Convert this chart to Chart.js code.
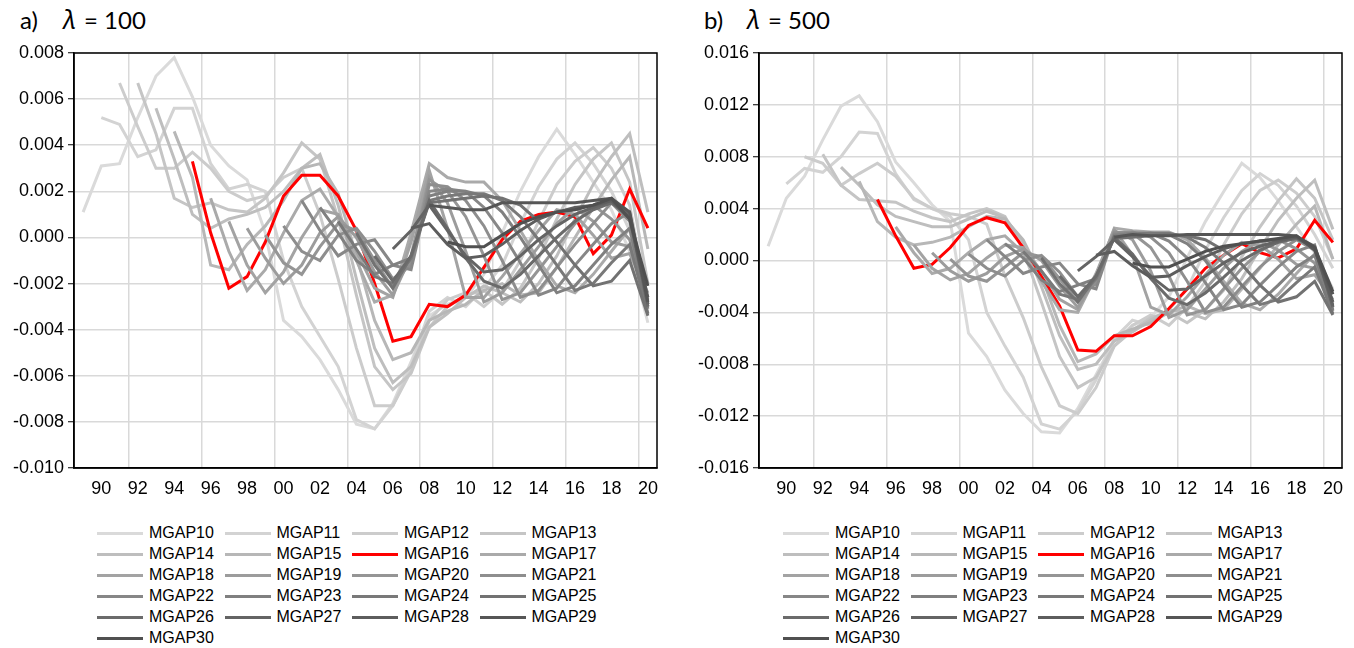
<!DOCTYPE html>
<html>
<head>
<meta charset="utf-8">
<script src="https://cdn.jsdelivr.net/npm/chart.js@4.4.1/dist/chart.umd.min.js"></script>
<style>
  html, body { margin: 0; padding: 0; background: #fff; }
  body { width: 1354px; height: 648px; position: relative; overflow: hidden;
         font-family: 'Liberation Sans', Arial, sans-serif; color: #000; }
  .panel { position: absolute; top: 0; width: 677px; height: 500px; }
  .title { position: absolute; top: 6px; font-family: Lato, sans-serif; font-size: 24px;
           line-height: 1.2; white-space: nowrap; }
  .title .lam { font-family: 'Noto Sans', sans-serif; font-style: italic; font-size: 25px; }
  .legend-item { position: absolute; height: 20px; font-size: 16px; line-height: 20px; white-space: nowrap; }
  .legend-item .swatch { position: absolute; left: 0; top: 9px; width: 46px; height: 3px; }
  .legend-item .label { position: absolute; left: 52px; top: 0; }
</style>
</head>
<body>

<div class="title" style="left:20px">a)</div>
<div class="title" style="left:63px; top:4px"><span class="lam">λ</span></div>
<div class="title" style="left:84px">= 100</div>
<div class="title" style="left:704px">b)</div>
<div class="title" style="left:747px; top:4px"><span class="lam">λ</span></div>
<div class="title" style="left:768px">= 500</div>

<div class="panel" style="left:0"><canvas id="chart-a" width="677" height="500"></canvas></div>
<div class="panel" style="left:677px"><canvas id="chart-b" width="677" height="500"></canvas></div>
<div id="legend"></div>

<script>
'use strict';

const YEARS = [1989, 1990, 1991, 1992, 1993, 1994, 1995, 1996, 1997, 1998, 1999, 2000, 2001, 2002, 2003, 2004,
               2005, 2006, 2007, 2008, 2009, 2010, 2011, 2012, 2013, 2014, 2015, 2016, 2017, 2018, 2019, 2020];

const SERIES = ['MGAP10', 'MGAP11', 'MGAP12', 'MGAP13', 'MGAP14', 'MGAP15', 'MGAP16', 'MGAP17', 'MGAP18', 'MGAP19',
                'MGAP20', 'MGAP21', 'MGAP22', 'MGAP23', 'MGAP24', 'MGAP25', 'MGAP26', 'MGAP27', 'MGAP28', 'MGAP29', 'MGAP30'];

const LINE_COLORS = ['#dadada', '#d3d3d3', '#cccccc', '#c5c5c5', '#bebebe', '#b7b7b7', '#ff0000', '#aaaaaa', '#a3a3a3', '#9c9c9c',
                     '#959595', '#8e8e8e', '#878787', '#808080', '#797979', '#727272', '#6b6b6b', '#646464', '#5d5d5d', '#565656', '#505050'];

/* ── a) lambda = 100 : each series runs from its first year up to 2020 ── */
const a10 = [0.0011, 0.0031, 0.0032, 0.0052, 0.0070, 0.0078, 0.0061, 0.0040, 0.0031, 0.0025, 0.0002, -0.0036, -0.0043, -0.0053, -0.0066, -0.0081, -0.0083, -0.0072, -0.0054, -0.0034, -0.0029, -0.0026, -0.0016, 0.0002, 0.0020, 0.0035, 0.0047, 0.0036, 0.0024, 0.0012, -0.0006, -0.0037];
const a11 = [0.0052, 0.0049, 0.0035, 0.0038, 0.0056, 0.0056, 0.0032, 0.0021, 0.0023, 0.0020, -0.0010, -0.0030, -0.0043, -0.0056, -0.0079, -0.0083, -0.0073, -0.0056, -0.0032, -0.0026, -0.0030, -0.0022, -0.0012, 0.0006, 0.0022, 0.0034, 0.0041, 0.0032, 0.0020, 0.0003, -0.0033];
const a12 = [0.0067, 0.0048, 0.0030, 0.0030, 0.0037, 0.0030, 0.0020, 0.0016, 0.0018, 0.0026, 0.0030, 0.0010, -0.0018, -0.0048, -0.0073, -0.0073, -0.0058, -0.0036, -0.0027, -0.0024, -0.0030, -0.0023, -0.0010, 0.0007, 0.0023, 0.0033, 0.0039, 0.0030, 0.0014, -0.0029];
const a13 = [0.0067, 0.0045, 0.0017, 0.0013, 0.0015, 0.0012, 0.0011, 0.0017, 0.0028, 0.0041, 0.0034, 0.0008, -0.0025, -0.0056, -0.0066, -0.0059, -0.0039, -0.0030, -0.0025, -0.0023, -0.0029, -0.0022, -0.0009, 0.0008, 0.0023, 0.0034, 0.0041, 0.0024, -0.0020];
const a14 = [0.0056, 0.0034, 0.0010, 0.0004, 0.0008, 0.0010, 0.0013, 0.0020, 0.0030, 0.0036, 0.0014, -0.0018, -0.0048, -0.0063, -0.0056, -0.0039, -0.0033, -0.0026, -0.0021, -0.0024, -0.0028, -0.0020, -0.0008, 0.0008, 0.0023, 0.0035, 0.0045, 0.0011];
const a15 = [0.0046, 0.0026, -0.0012, -0.0014, -0.0003, 0.0005, 0.0016, 0.0030, 0.0032, 0.0019, -0.0008, -0.0036, -0.0053, -0.0050, -0.0036, -0.0032, -0.0029, -0.0023, -0.0020, -0.0025, -0.0024, -0.0013, 0.0000, 0.0013, 0.0025, 0.0035, -0.0005];
const a16 = [0.0033, 0.0002, -0.0022, -0.0017, -0.0002, 0.0018, 0.0027, 0.0027, 0.0018, 0.0003, -0.0020, -0.0045, -0.0043, -0.0029, -0.0030, -0.0025, -0.0013, -0.0001, 0.0007, 0.0010, 0.0011, 0.0009, -0.0007, 0.0001, 0.0021, 0.0004];
const a17 = [0.0017, -0.0006, -0.0023, -0.0014, 0.0002, 0.0016, 0.0021, 0.0009, -0.0010, -0.0028, -0.0025, 0.0002, 0.0032, 0.0026, 0.0024, 0.0024, 0.0016, 0.0003, -0.0010, -0.0021, -0.0024, -0.0016, -0.0006, 0.0004, -0.0020];
const a18 = [0.0007, -0.0012, -0.0024, -0.0015, 0.0000, 0.0012, 0.0010, -0.0006, -0.0022, -0.0026, -0.0002, 0.0029, 0.0004, -0.0026, -0.0026, -0.0017, -0.0007, 0.0003, 0.0012, 0.0010, 0.0001, -0.0009, -0.0007, -0.0024];
const a19 = [0.0004, -0.0009, -0.0020, -0.0012, 0.0002, 0.0009, 0.0000, -0.0015, -0.0025, -0.0008, 0.0026, 0.0015, -0.0006, -0.0028, -0.0024, -0.0014, -0.0004, 0.0006, 0.0013, 0.0007, -0.0002, -0.0004, -0.0026];
const a20 = [0.0001, -0.0011, -0.0016, -0.0004, 0.0006, 0.0003, -0.0010, -0.0022, -0.0010, 0.0025, 0.0020, 0.0009, -0.0008, -0.0027, -0.0024, -0.0014, -0.0004, 0.0006, 0.0014, 0.0008, -0.0001, -0.0027];
const a21 = [0.0005, -0.0006, -0.0010, 0.0001, 0.0004, -0.0006, -0.0018, -0.0012, 0.0023, 0.0022, 0.0016, 0.0005, -0.0010, -0.0026, -0.0023, -0.0013, -0.0003, 0.0006, 0.0015, 0.0007, -0.0029];
const a22 = [0.0016, 0.0003, -0.0008, -0.0003, -0.0001, -0.0012, -0.0014, 0.0020, 0.0021, 0.0020, 0.0013, 0.0002, -0.0011, -0.0025, -0.0022, -0.0012, -0.0003, 0.0006, 0.0011, -0.0030];
const a23 = [0.0013, 0.0002, -0.0010, -0.0016, -0.0012, -0.0009, 0.0018, 0.0020, 0.0020, 0.0018, 0.0011, 0.0000, -0.0012, -0.0024, -0.0021, -0.0012, -0.0003, 0.0004, -0.0031];
const a24 = [0.0007, -0.0005, -0.0017, -0.0020, -0.0009, 0.0016, 0.0018, 0.0019, 0.0019, 0.0016, 0.0009, -0.0001, -0.0012, -0.0023, -0.0020, -0.0011, -0.0003, -0.0033];
const a25 = [0.0002, -0.0012, -0.0022, -0.0008, 0.0015, 0.0016, 0.0017, 0.0018, 0.0017, 0.0014, 0.0007, -0.0002, -0.0012, -0.0021, -0.0019, -0.0010, -0.0034];
const a26 = [-0.0008, -0.0019, -0.0008, 0.0016, 0.0004, -0.0009, -0.0019, -0.0022, -0.0016, -0.0008, 0.0000, 0.0007, 0.0012, 0.0015, 0.0009, -0.0030];
const a27 = [-0.0005, 0.0003, 0.0014, 0.0003, -0.0008, -0.0015, -0.0014, -0.0008, -0.0001, 0.0005, 0.0010, 0.0013, 0.0016, 0.0010, -0.0029];
const a28 = [0.0004, 0.0006, -0.0003, -0.0009, -0.0008, -0.0003, 0.0003, 0.0008, 0.0011, 0.0013, 0.0014, 0.0016, 0.0008, -0.0026];
const a29 = [0.0014, 0.0013, 0.0012, 0.0012, 0.0015, 0.0015, 0.0015, 0.0015, 0.0015, 0.0016, 0.0017, 0.0011, -0.0028];
const a30 = [-0.0002, -0.0004, -0.0004, 0.0001, 0.0006, 0.0009, 0.0011, 0.0012, 0.0014, 0.0017, 0.0008, -0.0021];

/* ── b) lambda = 500 ── */
const b10 = [0.0011, 0.0048, 0.0065, 0.0093, 0.0119, 0.0127, 0.0107, 0.0076, 0.0060, 0.0043, 0.0030, -0.0056, -0.0074, -0.0100, -0.0118, -0.0132, -0.0133, -0.0114, -0.0088, -0.0062, -0.0050, -0.0044, -0.0028, 0.0002, 0.0030, 0.0053, 0.0075, 0.0064, 0.0046, 0.0026, 0.0006, -0.0022];
const b11 = [0.0059, 0.0071, 0.0068, 0.0080, 0.0099, 0.0098, 0.0067, 0.0047, 0.0040, 0.0034, 0.0016, -0.0040, -0.0066, -0.0090, -0.0126, -0.0130, -0.0116, -0.0092, -0.0060, -0.0046, -0.0050, -0.0038, -0.0022, 0.0008, 0.0033, 0.0054, 0.0067, 0.0058, 0.0042, 0.0020, -0.0006];
const b12 = [0.0080, 0.0075, 0.0058, 0.0067, 0.0075, 0.0065, 0.0048, 0.0040, 0.0036, 0.0034, 0.0028, -0.0012, -0.0044, -0.0082, -0.0112, -0.0118, -0.0098, -0.0066, -0.0050, -0.0042, -0.0050, -0.0036, -0.0016, 0.0012, 0.0036, 0.0054, 0.0062, 0.0052, 0.0034, 0.0001];
const b13 = [0.0082, 0.0058, 0.0047, 0.0046, 0.0045, 0.0038, 0.0033, 0.0030, 0.0036, 0.0040, 0.0034, 0.0008, -0.0032, -0.0074, -0.0098, -0.0090, -0.0066, -0.0054, -0.0044, -0.0040, -0.0048, -0.0038, -0.0023, 0.0003, 0.0026, 0.0046, 0.0063, 0.0048, 0.0016];
const b14 = [0.0072, 0.0058, 0.0043, 0.0034, 0.0030, 0.0026, 0.0026, 0.0032, 0.0038, 0.0033, 0.0014, -0.0020, -0.0058, -0.0084, -0.0080, -0.0062, -0.0055, -0.0046, -0.0038, -0.0040, -0.0045, -0.0032, -0.0014, 0.0009, 0.0031, 0.0048, 0.0062, 0.0024];
const b15 = [0.0061, 0.0030, 0.0018, 0.0012, 0.0014, 0.0018, 0.0026, 0.0034, 0.0032, 0.0016, -0.0012, -0.0050, -0.0078, -0.0072, -0.0058, -0.0053, -0.0048, -0.0040, -0.0035, -0.0041, -0.0038, -0.0022, -0.0006, 0.0012, 0.0028, 0.0042, 0.0001];
const b16 = [0.0047, 0.0019, -0.0006, -0.0003, 0.0010, 0.0027, 0.0033, 0.0029, 0.0010, -0.0012, -0.0035, -0.0069, -0.0070, -0.0058, -0.0058, -0.0051, -0.0037, -0.0022, -0.0006, 0.0004, 0.0013, 0.0006, 0.0002, 0.0009, 0.0031, 0.0014];
const b17 = [0.0026, 0.0006, -0.0010, -0.0006, 0.0006, 0.0016, 0.0019, 0.0006, -0.0016, -0.0038, -0.0040, -0.0012, 0.0025, 0.0023, 0.0022, 0.0022, 0.0016, 0.0002, -0.0016, -0.0033, -0.0038, -0.0026, -0.0010, 0.0005, -0.0026];
const b18 = [0.0012, -0.0006, -0.0015, -0.0010, 0.0002, 0.0012, 0.0010, -0.0008, -0.0030, -0.0038, -0.0010, 0.0024, 0.0004, -0.0036, -0.0042, -0.0028, -0.0011, 0.0004, 0.0014, 0.0012, 0.0001, -0.0014, -0.0011, -0.0030];
const b19 = [0.0006, -0.0008, -0.0016, -0.0010, 0.0003, 0.0009, 0.0000, -0.0020, -0.0036, -0.0014, 0.0023, 0.0016, -0.0008, -0.0044, -0.0038, -0.0022, -0.0006, 0.0007, 0.0015, 0.0008, -0.0003, -0.0006, -0.0032];
const b20 = [0.0001, -0.0012, -0.0016, -0.0005, 0.0006, 0.0003, -0.0014, -0.0032, -0.0016, 0.0022, 0.0021, 0.0010, -0.0012, -0.0042, -0.0038, -0.0022, -0.0006, 0.0007, 0.0016, 0.0009, -0.0002, -0.0034];
const b21 = [0.0005, -0.0006, -0.0012, 0.0000, 0.0004, -0.0009, -0.0028, -0.0018, 0.0021, 0.0022, 0.0018, 0.0006, -0.0016, -0.0040, -0.0036, -0.0020, -0.0005, 0.0007, 0.0016, 0.0008, -0.0036];
const b22 = [0.0016, 0.0003, -0.0010, -0.0005, -0.0002, -0.0018, -0.0022, 0.0020, 0.0021, 0.0021, 0.0015, 0.0002, -0.0017, -0.0038, -0.0034, -0.0019, -0.0005, 0.0007, 0.0012, -0.0038];
const b23 = [0.0013, 0.0002, -0.0015, -0.0024, -0.0019, -0.0014, 0.0019, 0.0021, 0.0021, 0.0020, 0.0013, 0.0000, -0.0019, -0.0036, -0.0032, -0.0019, -0.0005, 0.0004, -0.0039];
const b24 = [0.0007, -0.0008, -0.0026, -0.0030, -0.0014, 0.0018, 0.0020, 0.0021, 0.0021, 0.0018, 0.0010, -0.0002, -0.0019, -0.0034, -0.0030, -0.0017, -0.0005, -0.0041];
const b25 = [0.0002, -0.0018, -0.0032, -0.0012, 0.0017, 0.0018, 0.0019, 0.0020, 0.0019, 0.0016, 0.0008, -0.0003, -0.0019, -0.0032, -0.0028, -0.0016, -0.0042];
const b26 = [-0.0012, -0.0028, -0.0012, 0.0018, 0.0005, -0.0014, -0.0029, -0.0034, -0.0025, -0.0013, 0.0000, 0.0008, 0.0014, 0.0017, 0.0010, -0.0036];
const b27 = [-0.0008, 0.0003, 0.0016, 0.0003, -0.0012, -0.0023, -0.0022, -0.0012, -0.0002, 0.0006, 0.0011, 0.0015, 0.0018, 0.0011, -0.0035];
const b28 = [0.0004, 0.0007, -0.0004, -0.0013, -0.0012, -0.0004, 0.0003, 0.0009, 0.0013, 0.0015, 0.0016, 0.0018, 0.0009, -0.0032];
const b29 = [0.0018, 0.0020, 0.0019, 0.0019, 0.0020, 0.0020, 0.0020, 0.0020, 0.0020, 0.0020, 0.0019, 0.0008, -0.0026];
const b30 = [-0.0002, -0.0005, -0.0005, 0.0001, 0.0007, 0.0011, 0.0013, 0.0015, 0.0017, 0.0019, 0.0010, -0.0024];

const PANEL_A = [a10, a11, a12, a13, a14, a15, a16, a17, a18, a19, a20, a21, a22, a23, a24, a25, a26, a27, a28, a29, a30];
const PANEL_B = [b10, b11, b12, b13, b14, b15, b16, b17, b18, b19, b20, b21, b22, b23, b24, b25, b26, b27, b28, b29, b30];

const FONT = "'Liberation Sans', Arial, sans-serif";

/* 차트 영역 테두리 */
const frame = {
  id: 'frame',
  afterDraw(chart) {
    const { ctx, chartArea: a } = chart;
    ctx.save();
    ctx.strokeStyle = '#000';
    ctx.lineWidth = 1.5;
    ctx.strokeRect(a.left, a.top, a.right - a.left, a.bottom - a.top);
    ctx.restore();
  },
};

function drawPanel(id, values, yMin, yMax, yStep, axisWidth, padRight) {
  const datasets = values.map((vals, i) => ({
    label: SERIES[i],
    // series start later and later, all end in 2020
    data: new Array(YEARS.length - vals.length).fill(null).concat(vals),
    borderColor: LINE_COLORS[i],
    borderWidth: 3,
    pointRadius: 0,
    tension: 0,
    order: -i,
  }));

  new Chart(document.getElementById(id), {
    type: 'line',
    data: { labels: YEARS, datasets },
    options: {
      responsive: false,
      animation: false,
      layout: { padding: { top: 53, right: padRight, left: 0, bottom: 0 } },
      plugins: { legend: { display: false }, tooltip: { enabled: false } },
      scales: {
        x: {
          offset: true,
          grid: {
            offset: true,
            lineWidth: 1.5,
            drawTicks: false,
            color: ctx => (YEARS[ctx.index] % 4 === 0 ? '#d9d9d9' : 'rgba(0,0,0,0)'),
          },
          border: { color: '#000', width: 1.5 },
          ticks: {
            autoSkip: false, maxRotation: 0, padding: 10, color: '#000',
            font: { family: FONT, size: 18 },
            callback: (v, i) => (YEARS[i] % 2 === 0 ? String(YEARS[i]).slice(2) : ''),
          },
          afterFit: s => { s.height = 32; },
        },
        y: {
          min: yMin, max: yMax,
          ticks: {
            stepSize: yStep, padding: 4, color: '#000',
            font: { family: FONT, size: 18 },
            callback: v => (Math.abs(v) < 1e-9 ? 0 : v).toFixed(3),
          },
          grid: { color: '#d9d9d9', lineWidth: 1.5, tickLength: 6, tickColor: '#000', tickWidth: 1 },
          border: { color: '#000', width: 1.5 },
          afterFit: s => { s.width = axisWidth; },
        },
      },
    },
    plugins: [frame],
  });
}

/* ── 범례 (4열) ── */
function drawLegend(offsetX) {
  const box = document.getElementById('legend');
  SERIES.forEach((name, i) => {
    const col = i % 4, row = Math.floor(i / 4);
    const el = document.createElement('div');
    el.className = 'legend-item';
    el.style.left = (offsetX + 97 + col * 127.5) + 'px';
    el.style.top = (523 + row * 21) + 'px';
    el.innerHTML = `<span class="swatch" style="background:${LINE_COLORS[i]}"></span><span class="label">${name}</span>`;
    box.appendChild(el);
  });
}

drawPanel('chart-a', PANEL_A, -0.010, 0.008, 0.002, 74, 20);
drawPanel('chart-b', PANEL_B, -0.016, 0.016, 0.004, 82, 12);
drawLegend(0);
drawLegend(686);
</script>
</body>
</html>
